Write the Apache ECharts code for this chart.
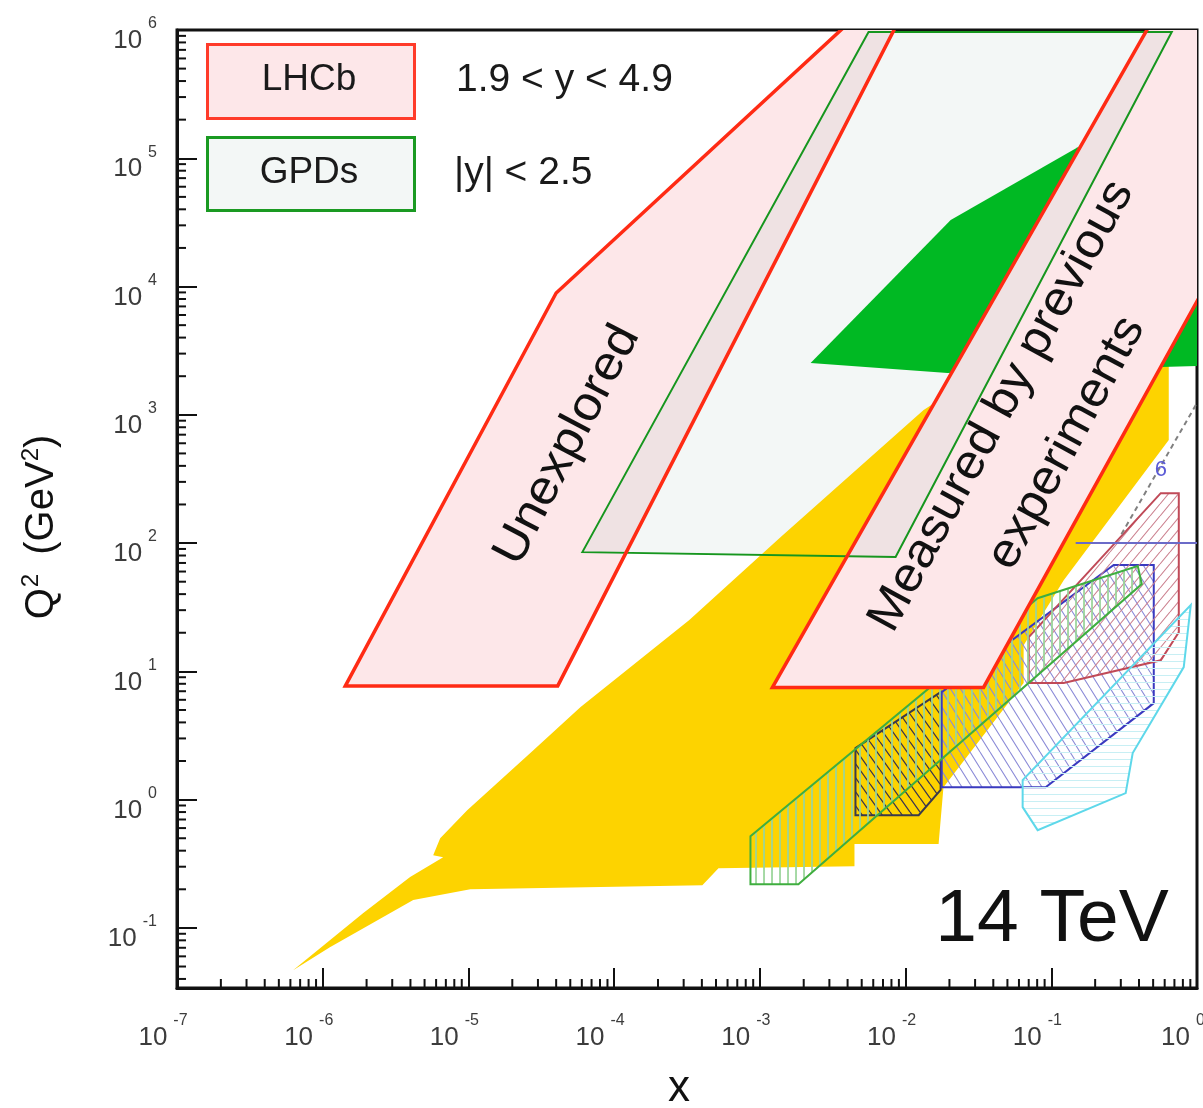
<!DOCTYPE html>
<html lang="en">
<head>
<meta charset="UTF-8">
<script src="https://cdn.jsdelivr.net/npm/echarts@6/dist/echarts.min.js"></script>
<style>
  html, body { margin: 0; padding: 0; background: #fff; }
  #main { width: 1203px; height: 1108px; }
</style>
</head>
<body>
<div id="main"></div>
<script>
var FONT = '"Liberation Sans", Arial, Helvetica, sans-serif';

// axis ranges: x and Q^2 (GeV^2)
var xRange = [1e-7, 1];
var qRange = [0.034, 1e6];
var minorSteps = [2, 3, 4, 5, 6, 7, 8, 9];

// LHCb acceptance, 1.9 < y < 4.9 (two bands)
var lhcbUnexplored = [[1.43e-6, 7.7], [4.0e-5, 8.9e3], [5.3e-3, 1.5e6], [1.0e-2, 1.5e6], [4.1e-5, 7.7]];
var lhcbMeasured = [[1.22e-3, 7.5], [0.555, 1.5e6], [2.5, 1.5e6], [2.34, 4.4e4], [3.43e-2, 7.5]];
// GPDs acceptance, |y| < 2.5
var gpdBand = [[6.05e-5, 85], [5.57e-3, 9.65e5], [0.671, 9.65e5], [8.54e-3, 78]];

// previous measurements
var yellowRegion = [
  [6.26e-7, 0.0468], [1.89e-6, 0.130], [3.98e-6, 0.249], [6.71e-6, 0.356], [5.73e-6, 0.369],
  [6.40e-6, 0.501], [9.81e-6, 0.828], [2.79e-5, 2.43], [5.86e-5, 5.26], [3.28e-4, 25.1],
  [1.385e-3, 111], [1.33e-2, 1089], [4.49e-2, 2673], [0.640, 2673], [0.640, 636],
  [0.1217, 51.4], [6.46e-2, 16.0], [6.46e-2, 8.10], [1.82e-2, 1.25], [1.685e-2, 0.450],
  [4.46e-3, 0.450], [4.46e-3, 0.303], [5.20e-4, 0.292], [4.03e-4, 0.2155], [1.03e-5, 0.200],
  [4.18e-6, 0.165], [1.12e-6, 0.0708]
];
var greenRegion = [[2.23e-3, 2533], [2.04e-2, 3.3e4], [0.152, 1.22e5], [1.7, 4.1e5], [1.7, 2440], [1.94e-2, 2117]];
var darkHatch = [[4.53e-3, 2.52], [4.53e-3, 0.757], [1.23e-2, 0.757], [1.74e-2, 1.19], [1.74e-2, 6.89]];
var blueHatch = [[1.77e-2, 6.89], [0.268, 67.4], [0.505, 67.4], [0.505, 5.65], [9.15e-2, 1.25], [1.77e-2, 1.25]];
var redHatch = [[7.0e-2, 8.1], [7.0e-2, 18.5], [0.564, 245], [0.75, 245], [0.75, 20.2], [0.564, 12.2], [0.1217, 8.1]];
var greenHatch = [[8.62e-4, 0.519], [8.62e-4, 0.219], [1.84e-3, 0.219], [0.418, 47.9], [0.392, 66.2], [8.06e-2, 37.2]];
var cyanHatch = [[0.906, 32.9], [0.811, 10.8], [0.362, 2.31], [0.324, 1.124], [8.06e-2, 0.578], [6.36e-2, 0.874], [6.36e-2, 1.42]];
var blueLine = [[0.147, 100], [1, 100]];
var dashedLine = [[0.981, 1191], [0.30, 115]];

// in-plot annotations: [x, Q^2] of text centre
var annotations = [
  { text: 'Unexplored', at: [4.77e-5, 581], size: 48, angle: 62.5 },
  { text: 'Measured by previous', at: [4.56e-2, 1170], size: 48, angle: 61.5 },
  { text: 'experiments', at: [0.1276, 602], size: 48, angle: 61.5 }
];
var sixLabel = { text: '6', at: [0.564, 371] };

function hatch(w, h, color, lw, kind) {
  var c = document.createElement('canvas');
  c.width = w; c.height = h;
  var ctx = c.getContext('2d');
  ctx.strokeStyle = color;
  ctx.lineWidth = lw;
  ctx.beginPath();
  for (var k = -1; k <= 1; k++) {
    if (kind === 'v') { ctx.moveTo(w / 2, 0); ctx.lineTo(w / 2, h); }
    else if (kind === 'h') { ctx.moveTo(0, h / 2); ctx.lineTo(w, h / 2); }
    else if (kind === 'back') { ctx.moveTo(k * w, 0); ctx.lineTo(k * w + w, h); }
    else { ctx.moveTo(k * w, h); ctx.lineTo(k * w + w, 0); }
  }
  ctx.stroke();
  return { image: c, repeat: 'repeat' };
}

function polySeries(pts, z, style) {
  return {
    type: 'custom', coordinateSystem: 'cartesian2d', clip: true, silent: true, z: z,
    data: pts,
    renderItem: function (params, api) {
      if (params.dataIndex !== 0) return;
      return {
        type: 'polygon',
        shape: { points: pts.map(function (p) { return api.coord(p); }) },
        style: style
      };
    }
  };
}

function lineSeries(pts, z, style) {
  return {
    type: 'custom', coordinateSystem: 'cartesian2d', clip: true, silent: true, z: z,
    data: pts,
    renderItem: function (params, api) {
      if (params.dataIndex !== 0) return;
      return {
        type: 'polyline',
        shape: { points: pts.map(function (p) { return api.coord(p); }) },
        style: style
      };
    }
  };
}

// clip polygon `subj` by convex polygon `clipP` (pixel space)
function clipPoly(subj, clipP) {
  var n = clipP.length, area = 0;
  for (var i = 0; i < n; i++) {
    var a0 = clipP[i], b0 = clipP[(i + 1) % n];
    area += a0[0] * b0[1] - b0[0] * a0[1];
  }
  var s = area > 0 ? 1 : -1;
  var out = subj;
  for (i = 0; i < n && out.length; i++) {
    var a = clipP[i], b = clipP[(i + 1) % n];
    var input = out;
    out = [];
    var side = function (p) { return s * ((b[0] - a[0]) * (p[1] - a[1]) - (b[1] - a[1]) * (p[0] - a[0])); };
    for (var k = 0; k < input.length; k++) {
      var P = input[k], Q = input[(k + 1) % input.length];
      var sp = side(P), sq = side(Q);
      if (sp >= 0) out.push(P);
      if ((sp >= 0) !== (sq >= 0)) {
        var t = sp / (sp - sq);
        out.push([P[0] + t * (Q[0] - P[0]), P[1] + t * (Q[1] - P[1])]);
      }
    }
  }
  return out;
}

function powLabel(v) {
  var e = Math.log10(v), r = Math.round(e);
  if (Math.abs(e - r) > 1e-6) return '';
  return '{b|10}{s|' + r + '}';
}

var richPow = {
  b: { fontSize: 26, color: '#3c3c3c', fontFamily: FONT },
  s: { fontSize: 16, color: '#3c3c3c', fontFamily: FONT, padding: [0, 0, 34, 6] }
};

var xMinor = [], yMinor = [];
for (var d = -7; d <= -1; d++) minorSteps.forEach(function (k) { xMinor.push([k * Math.pow(10, d), qRange[0]]); });
for (d = -2; d <= 5; d++) minorSteps.forEach(function (k) {
  var v = k * Math.pow(10, d);
  if (v > qRange[0] && v < qRange[1]) yMinor.push([xRange[0], v]);
});

var RED = '#ff2b14', GREEN = '#16961e';

var chart = echarts.init(document.getElementById('main'));

var series = [
  polySeries(gpdBand, 1, { fill: '#f3f7f6' }),
  polySeries(yellowRegion, 2, { fill: '#fdd300' }),
  polySeries(greenRegion, 3, { fill: '#00b923' }),
  polySeries(darkHatch, 4, { fill: hatch(10, 14, '#3a3550', 1.3, 'back'), stroke: '#3a3a4c', lineWidth: 2 }),
  polySeries(blueHatch, 5, { fill: hatch(10, 16, '#8c8cd8', 1.1, 'back'), stroke: '#3a3ac0', lineWidth: 2 }),
  polySeries(redHatch, 6, { fill: hatch(10, 12, '#cc8290', 1.1, 'fwd'), stroke: '#c04a58', lineWidth: 2 }),
  polySeries(cyanHatch, 7, { fill: hatch(8, 7, '#c8eff4', 1, 'h'), stroke: '#5ed8ea', lineWidth: 2 }),
  polySeries(greenHatch, 8, { fill: hatch(8, 8, '#9ad49a', 1, 'v'), stroke: '#3fae3f', lineWidth: 2 }),
  lineSeries(blueLine, 9, { stroke: '#6b6bc8', lineWidth: 2, fill: null }),
  lineSeries(dashedLine, 9, { stroke: '#808080', lineWidth: 2, lineDash: [5, 4], fill: null }),
  {
    type: 'custom', coordinateSystem: 'cartesian2d', silent: true, z: 9, data: [sixLabel.at],
    renderItem: function (params, api) {
      var p = api.coord(sixLabel.at);
      return { type: 'text', x: p[0], y: p[1], style: { text: sixLabel.text, fontSize: 22, fontFamily: FONT, fill: '#5b5bd6', align: 'center', verticalAlign: 'middle' } };
    }
  },
  polySeries(lhcbUnexplored, 10, { fill: '#fde7e9' }),
  polySeries(lhcbMeasured, 10, { fill: '#fde7e9' }),
  {
    type: 'custom', coordinateSystem: 'cartesian2d', clip: true, silent: true, z: 11, data: gpdBand,
    renderItem: function (params, api) {
      if (params.dataIndex !== 0) return;
      var px = function (arr) { return arr.map(function (p) { return api.coord(p); }); };
      var g = px(gpdBand);
      return {
        type: 'group',
        children: [lhcbUnexplored, lhcbMeasured].map(function (band) {
          return { type: 'polygon', shape: { points: clipPoly(g, px(band)) }, style: { fill: '#efe2e3' } };
        })
      };
    }
  },
  polySeries(gpdBand, 12, { fill: null, stroke: GREEN, lineWidth: 2 }),
  polySeries(lhcbUnexplored, 12, { fill: null, stroke: RED, lineWidth: 3.5, lineJoin: 'miter' }),
  polySeries(lhcbMeasured, 12, { fill: null, stroke: RED, lineWidth: 3.5, lineJoin: 'miter' }),
  {
    type: 'custom', coordinateSystem: 'cartesian2d', silent: true, z: 13,
    data: annotations.map(function (a) { return a.at; }),
    renderItem: function (params, api) {
      var a = annotations[params.dataIndex];
      var p = api.coord(a.at);
      return {
        type: 'text', x: p[0], y: p[1], rotation: a.angle * Math.PI / 180, scaleX: 1.07,
        style: { text: a.text, fontSize: a.size, fontFamily: FONT, fill: '#111', align: 'center', verticalAlign: 'middle' }
      };
    }
  },
  {
    type: 'custom', coordinateSystem: 'cartesian2d', clip: false, silent: true, z: 14, data: xMinor,
    renderItem: function (params, api) {
      var p = api.coord(xMinor[params.dataIndex]);
      return { type: 'line', shape: { x1: p[0], y1: p[1], x2: p[0], y2: p[1] - 9 }, style: { stroke: '#111', lineWidth: 2 } };
    }
  },
  {
    type: 'custom', coordinateSystem: 'cartesian2d', clip: false, silent: true, z: 14, data: yMinor,
    renderItem: function (params, api) {
      var p = api.coord(yMinor[params.dataIndex]);
      return { type: 'line', shape: { x1: p[0], y1: p[1], x2: p[0] + 9, y2: p[1] }, style: { stroke: '#111', lineWidth: 2 } };
    }
  }
];

chart.setOption({
  animation: false,
  backgroundColor: '#fff',
  grid: {
    left: 177, right: 6, top: 30, bottom: 120,
    containLabel: false, outerBoundsMode: 'none',
    show: true, borderColor: '#111', borderWidth: 3, backgroundColor: 'transparent'
  },
  xAxis: {
    type: 'log', min: xRange[0], max: xRange[1], splitNumber: 10,
    name: 'x', nameLocation: 'middle', nameGap: 79,
    nameTextStyle: { fontSize: 44, fontFamily: FONT, color: '#111', padding: [0, 16, 0, 0] },
    axisLine: { lineStyle: { color: '#111', width: 3 } },
    axisTick: { inside: true, length: 20, lineStyle: { color: '#111', width: 2 } },
    splitLine: { show: false },
    axisLabel: { formatter: powLabel, rich: richPow, margin: 25, padding: [0, 28, 0, 0], showMinLabel: true, showMaxLabel: true }
  },
  yAxis: {
    type: 'log', min: qRange[0], max: qRange[1], splitNumber: 10,
    name: '{t|Q}{v|2}{t| (GeV}{u|2}{t|)}', nameLocation: 'middle', nameGap: 112, nameRotate: 90,
    nameTextStyle: {
      padding: [0, 36, 0, 0],
      rich: {
        t: { fontSize: 40, fontFamily: FONT, color: '#111' },
        u: { fontSize: 24, fontFamily: FONT, color: '#111', padding: [0, 0, 22, 0] },
        v: { fontSize: 24, fontFamily: FONT, color: '#111', padding: [0, 8, 22, 1] }
      }
    },
    axisLine: { lineStyle: { color: '#111', width: 3 } },
    axisTick: { inside: true, length: 20, lineStyle: { color: '#111', width: 2 } },
    splitLine: { show: false },
    axisLabel: { formatter: powLabel, rich: richPow, margin: 20, padding: [22, 0, 0, 0] }
  },
  graphic: [
    { type: 'rect', left: 206, top: 43, shape: { width: 207, height: 74 }, style: { fill: '#fde7e9', stroke: '#ff3b2a', lineWidth: 3 }, z: 100 },
    { type: 'text', x: 309, y: 80, style: { text: 'LHCb', fontSize: 37, fontFamily: FONT, fill: '#1a1a1a', align: 'center', verticalAlign: 'middle' }, z: 101 },
    { type: 'rect', left: 206, top: 136, shape: { width: 207, height: 73 }, style: { fill: '#f3f7f6', stroke: '#1a9a22', lineWidth: 3 }, z: 100 },
    { type: 'text', x: 309, y: 173, style: { text: 'GPDs', fontSize: 37, fontFamily: FONT, fill: '#1a1a1a', align: 'center', verticalAlign: 'middle' }, z: 101 },
    { type: 'text', x: 456, y: 80, style: { text: '1.9 < y < 4.9', fontSize: 39, fontFamily: FONT, fill: '#1a1a1a', align: 'left', verticalAlign: 'middle' }, z: 101 },
    { type: 'text', x: 454, y: 173, style: { text: '|y| < 2.5', fontSize: 39, fontFamily: FONT, fill: '#1a1a1a', align: 'left', verticalAlign: 'middle' }, z: 101 },
    { type: 'text', x: 1052, y: 920, style: { text: '14 TeV', fontSize: 75, fontFamily: FONT, fill: '#111', align: 'center', verticalAlign: 'middle' }, z: 101 }
  ],
  series: series
});
</script>
</body>
</html>
